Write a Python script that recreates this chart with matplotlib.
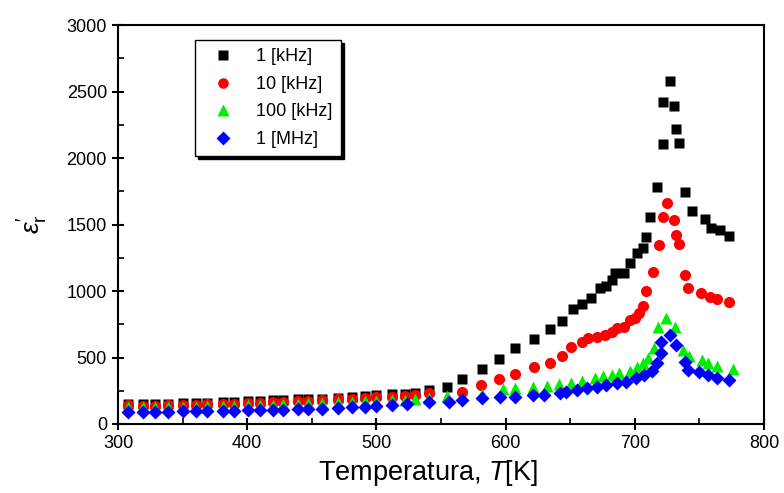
import matplotlib
matplotlib.use('Agg')
import matplotlib.pyplot as plt
from matplotlib.ticker import MultipleLocator

plt.rcParams['font.family'] = ['Liberation Sans', 'DejaVu Sans']
plt.rcParams['mathtext.fontset'] = 'custom'
plt.rcParams['mathtext.rm'] = 'Liberation Sans'
plt.rcParams['mathtext.it'] = 'Liberation Sans:italic'

# 1 kHz
t_1k = [308, 319, 329, 339, 350, 360, 369, 381, 390, 401, 410, 420, 428, 439, 447,
        458, 470, 481, 491, 500, 512, 522, 530, 541, 555, 566, 582, 595, 607, 622,
        634, 644, 652, 659, 666, 673, 678, 682, 685, 692, 696, 702, 706, 709, 712,
        717, 722, 722, 727, 730, 732, 734, 739, 744, 754, 759, 766, 773]
e_1k = [150, 150, 150, 152, 155, 158, 160, 165, 168, 172, 175, 178, 182, 185, 188,
        190, 195, 203, 210, 218, 222, 228, 235, 256, 278, 338, 413, 489, 571, 639,
        718, 778, 865, 905, 947, 1022, 1037, 1080, 1135, 1135, 1210, 1285, 1323, 1406, 1556,
        1782, 2105, 2421, 2579, 2391, 2218, 2113, 1744, 1602, 1541, 1474, 1459, 1413]

# 10 kHz
t_10k = [308, 319, 329, 339, 350, 360, 369, 381, 390, 401, 410, 420, 428, 439, 447,
         458, 470, 481, 491, 500, 512, 522, 530, 541, 566, 581, 595, 607, 622, 634,
         644, 651, 659, 664, 671, 677, 682, 686, 692, 696, 700, 703, 706, 709, 714,
         719, 722, 725, 730, 732, 734, 739, 741, 751, 758, 764, 773]
e_10k = [140, 138, 138, 140, 142, 145, 147, 150, 152, 155, 158, 162, 165, 170, 175,
         178, 185, 190, 195, 200, 205, 210, 215, 233, 241, 290, 335, 376, 425, 455,
         508, 579, 617, 647, 654, 669, 692, 722, 729, 782, 797, 835, 887, 1000, 1140,
         1346, 1556, 1662, 1534, 1421, 1353, 1120, 1022, 985, 955, 940, 917]

# 100 kHz
t_100k = [308, 319, 329, 339, 350, 360, 369, 381, 390, 401, 410, 420, 428, 439, 447,
          458, 470, 481, 491, 500, 512, 522, 530, 541, 555, 582, 598, 607, 621, 632,
          641, 651, 659, 669, 675, 682, 688, 696, 702, 706, 710, 715, 718, 724, 731,
          737, 742, 752, 757, 764, 776]
e_100k = [125, 125, 125, 127, 128, 130, 132, 135, 137, 140, 142, 145, 148, 150, 155,
          158, 162, 165, 170, 175, 178, 182, 188, 195, 210, 225, 265, 270, 275, 285,
          300, 310, 325, 345, 360, 370, 380, 400, 425, 460, 496, 571, 729, 800, 729,
          556, 510, 481, 459, 436, 410]

# 1 MHz
t_1M = [308, 319, 329, 339, 350, 360, 369, 381, 390, 401, 410, 420, 428, 439, 447,
        458, 470, 481, 491, 500, 512, 524, 541, 556, 566, 582, 596, 607, 621, 630,
        642, 647, 655, 663, 671, 678, 686, 693, 701, 707, 713, 717, 720, 720, 727,
        732, 739, 741, 750, 757, 764, 773]
e_1M = [92, 92, 93, 93, 94, 95, 96, 98, 100, 102, 104, 106, 108, 110, 113,
        116, 120, 125, 130, 135, 140, 148, 163, 165, 178, 195, 200, 203, 215, 220,
        235, 240, 256, 271, 280, 293, 308, 318, 346, 368, 395, 459, 534, 617, 669,
        594, 466, 406, 391, 368, 346, 331]

fig = plt.figure(figsize=(7.84, 4.93), dpi=100)
ax = fig.add_axes([0.1505, 0.140, 0.824, 0.809])

ax.plot(t_1k, e_1k, 's', color='black', ms=7.5, mec='none', label='1 [kHz]')
ax.plot(t_10k, e_10k, 'o', color='#ff0000', ms=8, mec='none', label='10 [kHz]')
ax.plot(t_100k, e_100k, '^', color='#00ee00', ms=8.5, mec='none', label='100 [kHz]')
ax.plot(t_1M, e_1M, 'D', color='#0000ff', ms=7, mec='none', label='1 [MHz]')

ax.set_xlim(300, 800)
ax.set_ylim(0, 3000)
ax.xaxis.set_major_locator(MultipleLocator(100))
ax.xaxis.set_minor_locator(MultipleLocator(50))
ax.yaxis.set_major_locator(MultipleLocator(500))
ax.yaxis.set_minor_locator(MultipleLocator(250))
ax.tick_params(which='major', direction='inout', length=9, width=1.5, labelsize=13)
ax.tick_params(which='minor', direction='in', length=4, width=1.2)
for sp in ax.spines.values():
    sp.set_linewidth(1.5)

ax.set_xlabel('Temperatura, $T$[K]', fontsize=19.5, labelpad=4)
ax.xaxis.label.set_x(0.48)
ax.set_ylabel(r"$\varepsilon_{\rm r}'$", fontsize=19, labelpad=12)

leg = ax.legend(loc='upper left', bbox_to_anchor=(0.119, 0.962), fontsize=13,
                frameon=True, fancybox=False, edgecolor='black', markerscale=0.95,
                shadow={'color': 'black', 'alpha': 1}, borderpad=0.45,
                labelspacing=0.58, handletextpad=0.75, handlelength=2.2,
                borderaxespad=0)
leg.get_frame().set_linewidth(1.0)

fig.savefig('out.png', dpi=100)
